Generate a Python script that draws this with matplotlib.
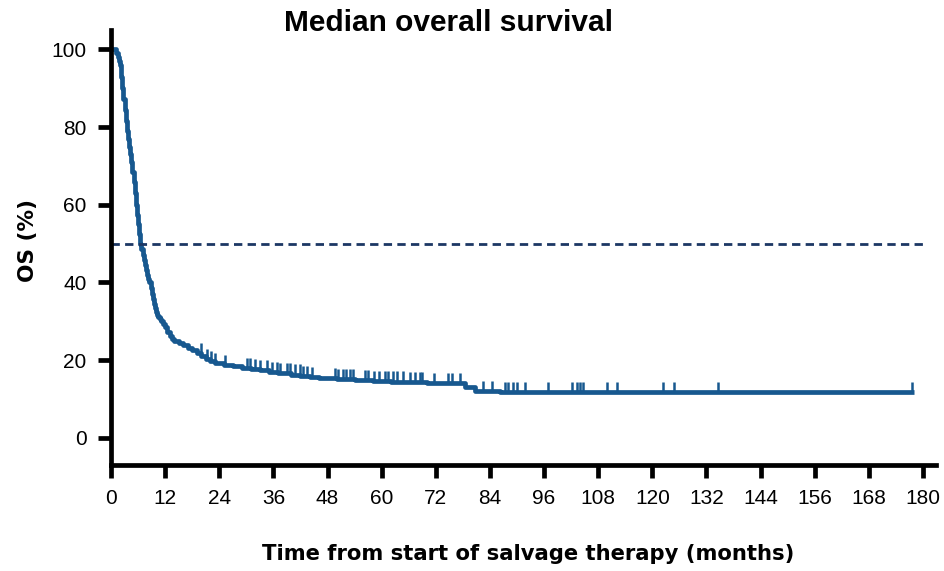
import numpy as np
import matplotlib
matplotlib.use("Agg")
import matplotlib.pyplot as plt

plt.rcParams['font.family'] = ['Liberation Sans', 'DejaVu Sans']

# Kaplan-Meier step curve (months, OS %)
times = [0, 0.5, 1, 1.5, 1.75, 2, 2.25, 2.5, 2.75, 3, 3.25, 3.5, 3.75, 4, 4.25, 4.5, 4.75,
         5, 5.25, 5.5, 5.75, 6, 6.25, 6.5, 6.75, 7, 7.25, 7.5, 7.75, 8, 8.25, 8.5, 8.75,
         9, 9.25, 9.5, 9.75, 10, 10.25, 10.5, 10.75, 11, 11.5, 12, 12.5, 13, 13.5, 14, 15,
         16, 17, 18, 19, 20, 21, 22, 23, 25, 27, 29, 31, 33, 35, 37, 40, 42, 44, 46, 50,
         54, 58, 62, 66, 70, 78.5, 80.7, 86.2, 178]
surv = [100, 100, 99, 98, 97, 96, 93, 90, 87.3, 84.5, 81.7, 79, 77, 75, 73, 71, 68.5,
        66, 63, 60, 57.5, 55, 52.5, 50, 48.5, 47, 45.7, 44.5, 43.2, 42, 41, 40, 38.5,
        37, 35.7, 34.5, 33.5, 32.5, 31.7, 31, 30.5, 30, 29.3, 28.5, 27.3, 26.3, 25.5, 25, 24.3,
        23.8, 23.2, 22.5, 21.8, 21, 20.3, 19.7, 19.2, 18.8, 18.4, 18, 17.7, 17.4, 17, 16.7, 16.3, 16, 15.7, 15.4, 15.1,
        14.9, 14.7, 14.5, 14.3, 14.1, 13.2, 12.1, 11.7, 11.7]

# censored observations (months)
censor_times = [19.9, 21.2, 22.2, 23.0, 25.3, 30.1, 30.8, 32.0, 33.0, 34.5, 35.6, 36.7, 37.4,
                38.9, 39.7, 40.8, 41.9, 42.6, 43.4, 44.5, 49.7, 50.4, 51.5, 52.2, 53.0, 53.7,
                56.3, 57.0, 58.2, 59.3, 60.7, 61.5, 62.6, 63.3, 64.8, 66.3, 67.4, 68.5, 68.9,
                71.5, 74.8, 75.5, 77.4, 82.5, 84.4, 87.3, 88.1, 89.2, 90.0, 91.8, 96.9, 102.1,
                103.2, 104.0, 104.7, 109.9, 112.1, 122.4, 124.7, 134.6, 177.5]

median_level = 50
x_ticks = list(range(0, 181, 12))
y_ticks = list(range(0, 101, 20))

title_text = 'Median overall survival'
xlabel_text = 'Time from start of salvage therapy (months)'
ylabel_text = 'OS (%)'

line_color = '#17588f'
dash_color = '#1c3764'

fig = plt.figure(figsize=(9.45, 5.71), dpi=100)
ax = fig.add_axes([0.1175, 0.1856, 0.8735, 0.7618])

ax.plot(times, surv, drawstyle='steps-post', color=line_color, lw=3.4, solid_joinstyle='round',
        solid_capstyle='butt')

t_arr = np.array(times)
s_arr = np.array(surv)
idx = np.searchsorted(t_arr, censor_times, side='right') - 1
cs = s_arr[idx]
ax.vlines(censor_times, cs, cs + 2.6, color=line_color, lw=1.8)

ax.plot([0, 180], [median_level, median_level], color=dash_color, lw=2.0, dashes=(3.0, 1.9))

ax.set_xlim(0, 183)
ax.set_ylim(-7, 105)
ax.set_xticks(x_ticks)
ax.set_yticks(y_ticks)
ax.tick_params(axis='both', labelsize=15, width=3.4, length=9.5, color='black')
ax.tick_params(axis='x', pad=8)
ax.tick_params(axis='y', pad=8)
for side in ['top', 'right']:
    ax.spines[side].set_visible(False)
for side in ['left', 'bottom']:
    ax.spines[side].set_linewidth(3.4)

bold_font = ['DejaVu Sans']
ttl = fig.text(449 / 945, 1 - 23 / 571, title_text, fontsize=16, fontweight='bold',
               family=['Liberation Sans'], ha='center', va='center')
xl = fig.text(528 / 945, 1 - 554 / 571, xlabel_text, fontsize=14, fontweight='bold',
              family=bold_font, ha='center', va='center')
yl = fig.text(28 / 945, 1 - 241 / 571, ylabel_text, fontsize=14, fontweight='bold',
              family=bold_font, ha='center', va='center', rotation=90)

# scale text to match the reference's extents
fig.canvas.draw()
r = fig.canvas.get_renderer()
for t, target, horiz in [(ttl, 328, True), (xl, 533, True), (yl, 83, False)]:
    bb = t.get_window_extent(r)
    cur = bb.width if horiz else bb.height
    t.set_fontsize(t.get_fontsize() * target / cur)

fig.savefig('out.png', dpi=100)
